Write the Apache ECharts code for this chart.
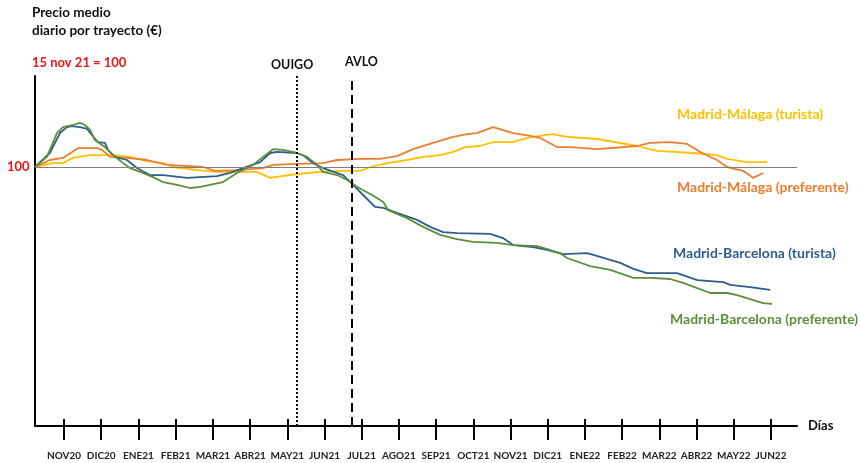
<!DOCTYPE html>
<html>
<head>
<meta charset="utf-8">
<script src="https://cdn.jsdelivr.net/npm/echarts@6/dist/echarts.min.js"></script>
<style>
html,body{margin:0;padding:0;background:#fff;}
#c{width:860px;height:463px;}
</style>
</head>
<body>
<div id="c"></div>
<script>
// x = months since NOV20 tick (0 = NOV20, 1 = DIC20, ...); y = index (15 nov 21 = 100)
var monthLabels = ['NOV20','DIC20','ENE21','FEB21','MAR21','ABR21','MAY21','JUN21','JUL21','AGO21','SEP21','OCT21','NOV21','DIC21','ENE22','FEB22','MAR22','ABR22','MAY22','JUN22'];
var monthTicks = [0,1,2,3,4,5,6,7,8,9,10,11,12,13,14,15,16,17,18,19];
var ouigoX = 6.26;
var avloX = 7.74;

var bcnTurista = [[-0.78,100],[-0.38,104.0],[-0.11,109.7],[0.08,111.4],[0.22,111.7],[0.43,111.4],[0.62,110.9],[0.75,109.1],[0.91,107.1],[1.10,106.9],[1.18,104.9],[1.37,102.9],[1.69,102.0],[1.96,99.7],[2.31,97.7],[2.66,97.7],[3.31,96.9],[4.11,97.4],[4.46,98.3],[4.81,99.7],[5.27,101.4],[5.54,104.0],[5.73,104.3],[6.26,104.0],[6.42,103.4],[6.69,101.1],[6.96,99.7],[7.50,97.7],[7.77,94.9],[8.04,92.0],[8.36,88.6],[8.58,88.3],[8.95,86.9],[9.49,84.9],[9.84,82.9],[10.19,81.4],[10.56,81.1],[11.45,80.9],[11.80,79.7],[12.07,77.7],[12.61,77.1],[12.98,76.3],[13.41,75.1],[14.06,75.4],[14.41,74.3],[14.95,72.6],[15.30,70.9],[15.67,69.7],[16.48,69.7],[17.02,67.7],[17.72,67.1],[17.90,66.3],[18.44,65.7],[18.98,64.9]];

var bcnPreferente = [[-0.78,100],[-0.46,102.9],[-0.19,109.7],[-0.03,111.4],[0.24,112.0],[0.43,112.6],[0.56,112.0],[0.70,110.6],[0.83,107.7],[1.10,105.7],[1.32,103.4],[1.59,101.1],[1.77,99.7],[2.12,98.3],[2.39,97.1],[2.66,95.7],[3.04,94.9],[3.39,94.0],[3.66,94.3],[3.92,94.9],[4.27,95.7],[4.65,98.3],[5.08,100.6],[5.35,102.9],[5.62,105.1],[5.89,104.9],[6.26,104.0],[6.53,102.9],[6.80,100.6],[6.96,98.6],[7.34,97.7],[7.61,96.3],[7.88,94.3],[8.28,92.0],[8.58,90.0],[8.71,87.7],[9.22,85.4],[9.65,82.9],[10.11,80.6],[10.56,79.4],[10.99,78.6],[11.64,78.3],[12.07,77.7],[12.72,77.4],[12.88,76.9],[13.33,75.4],[13.52,74.0],[14.14,71.7],[14.68,70.6],[15.30,68.3],[15.75,68.3],[16.29,68.0],[16.64,66.9],[17.37,64.0],[17.82,64.0],[18.09,63.4],[18.79,61.1],[19.03,60.9]];

var mlgPreferente = [[-0.78,100],[-0.38,102.0],[-0.03,102.6],[0.22,104.3],[0.38,105.4],[0.89,105.4],[1.02,104.9],[1.24,102.9],[1.69,102.6],[2.23,102.0],[2.77,100.6],[3.74,100.0],[4.06,98.9],[4.65,99.1],[5.35,99.7],[5.62,100.6],[6.26,100.9],[6.96,101.1],[7.34,102.0],[7.96,102.3],[8.49,102.3],[8.95,103.1],[9.38,105.1],[9.92,106.9],[10.46,108.6],[10.83,109.4],[11.10,109.7],[11.53,111.4],[12.07,109.7],[12.53,108.9],[12.80,108.3],[13.25,105.7],[13.60,105.7],[14.33,105.1],[15.40,106.0],[15.75,106.9],[16.29,107.1],[16.75,106.6],[17.10,104.3],[17.55,102.0],[17.82,100.0],[18.25,98.9],[18.52,96.9],[18.79,98.3]];

var mlgTurista = [[-0.78,100],[-0.30,101.1],[-0.03,101.1],[0.24,102.6],[0.70,103.4],[1.32,103.4],[1.77,102.9],[2.23,101.7],[2.66,101.1],[2.93,100.0],[3.58,99.1],[4.11,98.6],[5.19,98.6],[5.54,96.9],[6.26,98.0],[6.88,98.6],[7.50,98.9],[7.96,98.9],[8.23,100.0],[8.58,100.9],[9.22,102.0],[9.65,102.9],[10.11,103.4],[10.46,104.3],[10.78,105.7],[11.18,106.0],[11.53,107.1],[12.07,107.1],[12.45,108.3],[12.80,108.9],[13.12,109.4],[13.52,108.6],[14.33,108.0],[15.40,106.0],[15.94,104.6],[16.91,104.0],[17.55,103.4],[17.82,102.3],[18.36,101.4],[18.90,101.4]];

var seriesNames = ['Madrid-Málaga (turista)','Madrid-Málaga (preferente)','Madrid-Barcelona (turista)','Madrid-Barcelona (preferente)'];

var FONT = 'Lato, "Open Sans", sans-serif';
var cYellow = '#FFC000', cOrange = '#ED7D31', cBlue = '#2F5D8C', cGreen = '#5B8F3B';

function lineSeries(name, data, color, extra) {
  var s = {
    name: name, type: 'line', data: data, showSymbol: false, symbol: 'none',
    lineStyle: { color: color, width: 1.8 }, itemStyle: { color: color },
    z: 3, silent: true, animation: false
  };
  if (extra) for (var k in extra) s[k] = extra[k];
  return s;
}

var chart = echarts.init(document.getElementById('c'), null, { renderer: 'canvas' });
chart.setOption({
  animation: false,
  grid: { left: 35, top: 76, right: 63, bottom: 37, containLabel: false },
  xAxis: [{
    type: 'value', min: -0.78, max: 19.7, position: 'bottom',
    axisLine: { show: true, onZero: false, lineStyle: { color: '#000', width: 2 } },
    axisTick: { show: true, customValues: monthTicks, length: 14, inside: false, lineStyle: { color: '#000', width: 2 } },
    axisLabel: {
      show: true, customValues: monthTicks, margin: 25,
      formatter: function (v) { return monthLabels[Math.round(v)] || ''; },
      fontFamily: FONT, fontWeight: 'bold', fontSize: 10, color: '#222'
    },
    splitLine: { show: false }
  }, {
    type: 'value', min: -0.78, max: 19.7, position: 'bottom',
    axisLine: { show: false, onZero: false },
    axisTick: { show: true, customValues: monthTicks, length: 7, inside: true, lineStyle: { color: '#000', width: 2 } },
    axisLabel: { show: false },
    splitLine: { show: false }
  }],
  yAxis: {
    type: 'value', min: 26, max: 126,
    axisLine: { show: true, onZero: false, lineStyle: { color: '#000', width: 2 } },
    axisTick: { show: false }, axisLabel: { show: false }, splitLine: { show: false }
  },
  series: [
    lineSeries(seriesNames[0], mlgTurista, cYellow, {
      markLine: {
        silent: true, symbol: 'none', animation: false,
        label: { show: false },
        data: [
          { yAxis: 100, lineStyle: { color: '#7f7f7f', width: 1, type: 'solid' } },
          { xAxis: ouigoX, lineStyle: { color: '#000', width: 2, type: [2, 2] } },
          { xAxis: avloX, lineStyle: { color: '#000', width: 2, type: [9, 5] } }
        ]
      }
    }),
    lineSeries(seriesNames[1], mlgPreferente, cOrange),
    lineSeries(seriesNames[2], bcnTurista, cBlue),
    lineSeries(seriesNames[3], bcnPreferente, cGreen)
  ],
  graphic: [
    { type: 'text', left: 32, top: 6, style: { text: 'Precio medio', font: 'bold 13.5px ' + FONT, fill: '#111' } },
    { type: 'text', left: 32, top: 24, style: { text: 'diario por trayecto (€)', font: 'bold 13.5px ' + FONT, fill: '#111' } },
    { type: 'text', left: 32, top: 56, style: { text: '15 nov 21 = 100', font: 'bold 13px ' + FONT, fill: '#E8141B' } },
    { type: 'text', left: 7, top: 160, style: { text: '100', font: 'bold 13px ' + FONT, fill: '#E8141B' } },
    { type: 'text', left: 271, top: 58, style: { text: 'OUIGO', font: 'bold 12.5px ' + FONT, fill: '#111' } },
    { type: 'text', left: 345, top: 55, style: { text: 'AVLO', font: 'bold 12.5px ' + FONT, fill: '#111' } },
    { type: 'text', left: 808, top: 419, style: { text: 'Días', font: 'bold 13px ' + FONT, fill: '#111' } },
    { type: 'text', left: 677, top: 107, style: { text: seriesNames[0], font: 'bold 14px ' + FONT, fill: cYellow } },
    { type: 'text', left: 677, top: 180, style: { text: seriesNames[1], font: 'bold 14px ' + FONT, fill: cOrange } },
    { type: 'text', left: 673, top: 246, style: { text: seriesNames[2], font: 'bold 14px ' + FONT, fill: cBlue } },
    { type: 'text', left: 670, top: 312, style: { text: seriesNames[3], font: 'bold 14px ' + FONT, fill: cGreen } }
  ]
});
</script>
</body>
</html>
